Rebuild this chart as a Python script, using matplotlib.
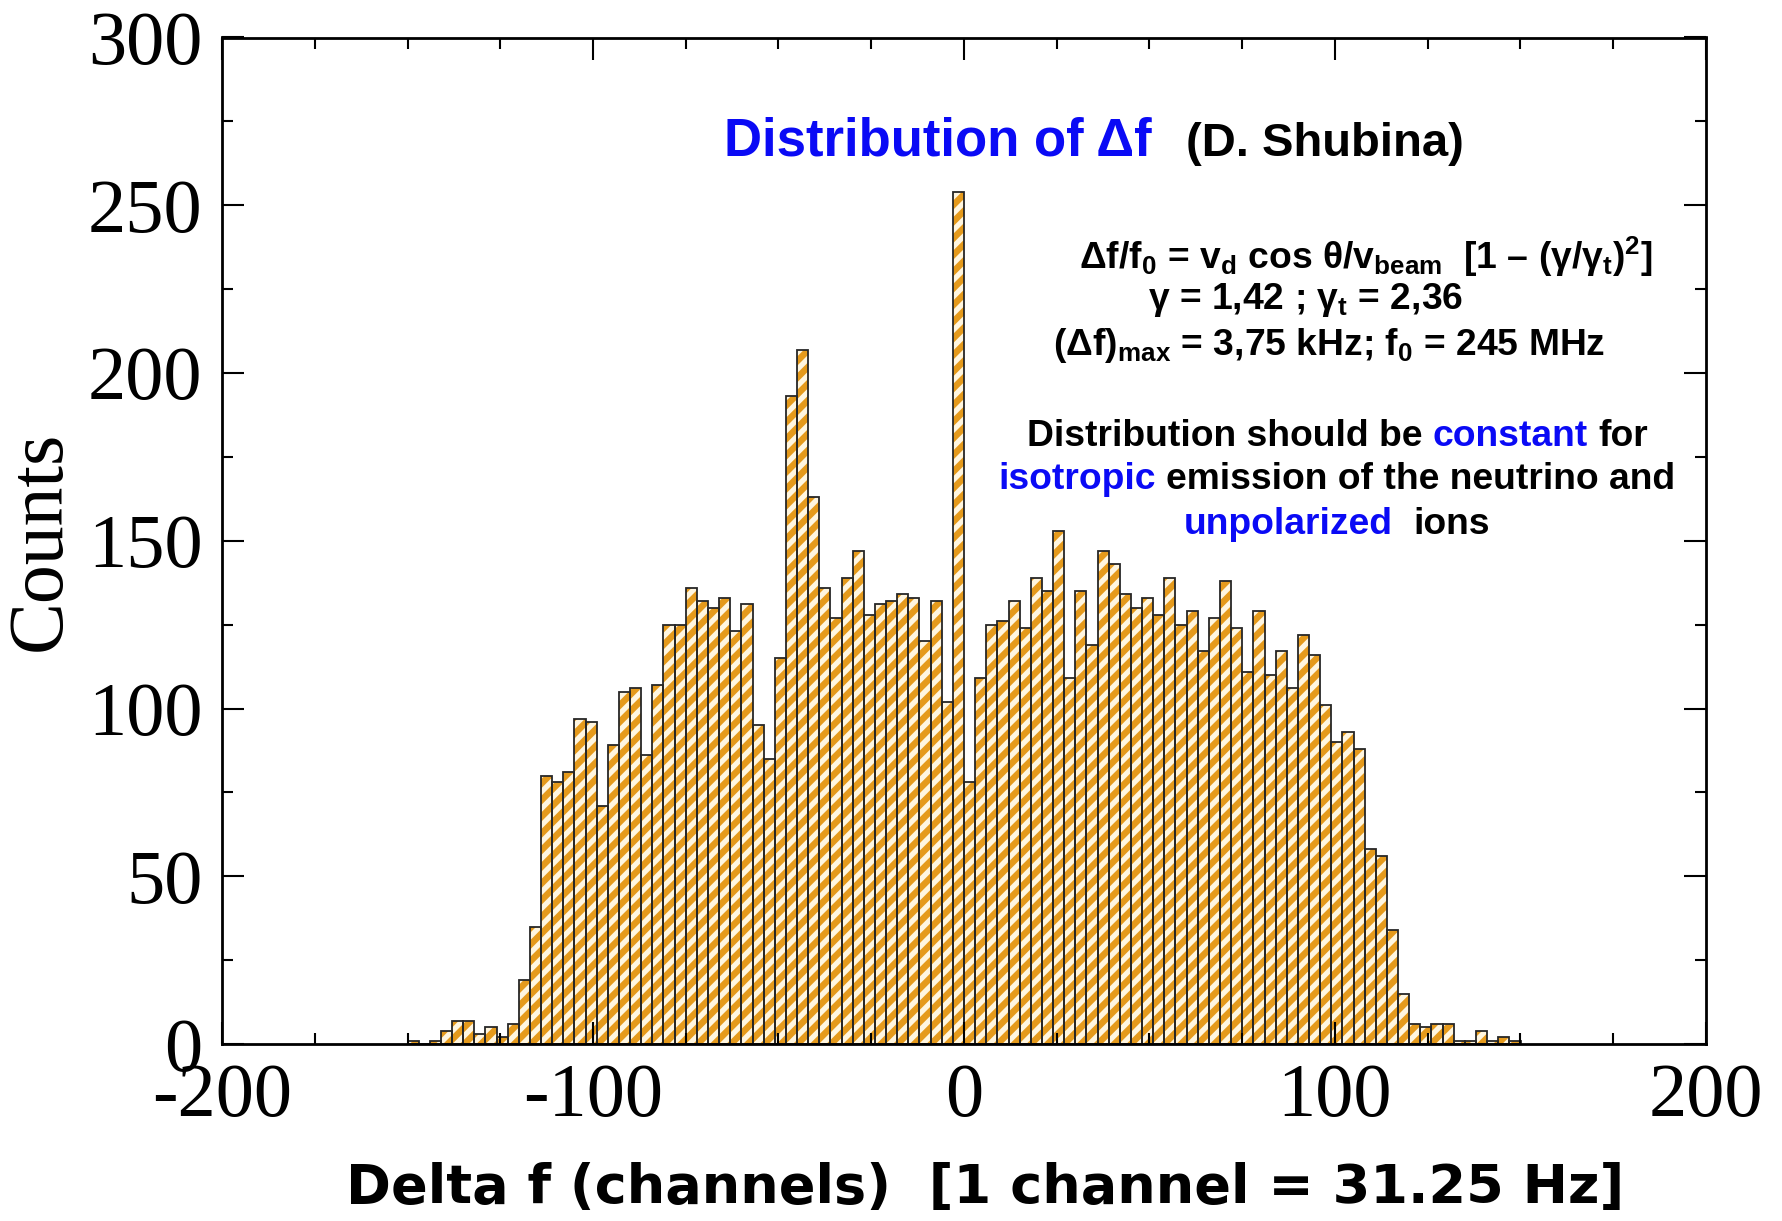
import matplotlib
matplotlib.use("Agg")
import matplotlib.pyplot as plt
import numpy as np

# histogram of delta f, 3-channel bins from -150 to 150
bin_left = np.arange(-150, 150, 3)
counts = [1, 0, 1, 4, 7, 7, 3, 5, 2, 6, 19, 35,
          80, 78, 81, 97, 96, 71, 89, 105,
          106, 86, 107, 125, 125, 136, 132, 130, 133, 123, 131, 95, 85, 115, 193, 207,
          163, 136, 127, 139, 147, 128, 131, 132, 134, 133, 120, 132, 102, 254,
          78, 109, 125, 126, 132, 124, 139, 135,
          153, 109, 135, 119, 147, 143, 134, 130, 133, 128, 139, 125, 129, 117, 127, 138, 124, 111, 129,
          110, 117, 106, 122, 116, 101, 90, 93, 88, 58, 56, 34, 15,
          6, 5, 6, 6, 1, 1, 4, 1, 2, 1]

x_ticks = [-200, -100, 0, 100, 200]
y_ticks = [0, 50, 100, 150, 200, 250, 300]

plt.rcParams['hatch.linewidth'] = 3.8
plt.rcParams['axes.unicode_minus'] = False
plt.rcParams['mathtext.fontset'] = 'custom'
plt.rcParams['mathtext.rm'] = 'Liberation Sans:bold'
plt.rcParams['mathtext.it'] = 'Liberation Sans:bold'
plt.rcParams['mathtext.bf'] = 'Liberation Sans:bold'

W, H = 1783, 1221
fig = plt.figure(figsize=(W / 100, H / 100), dpi=100)
ax = fig.add_axes([222 / W, 1 - 1044 / H, (1706 - 222) / W, (1044 - 37.5) / H])

# striped fill, then black outline
ax.bar(bin_left, counts, width=3, align='edge', color='#e59a1c',
       edgecolor='#fff6e0', hatch='//', linewidth=0)
ax.bar(bin_left, counts, width=3, align='edge', fill=False,
       edgecolor='#262626', linewidth=1.3)

ax.set_xlim(-200, 200)
ax.set_ylim(0, 300)
ax.set_xticks(x_ticks)
ax.set_yticks(y_ticks)
ax.set_xticks(np.arange(-200, 201, 25), minor=True)
ax.set_yticks(np.arange(0, 301, 25), minor=True)
ax.tick_params(which='both', direction='in', top=True, right=True, width=1.5)
ax.tick_params(which='major', length=16, pad=14)
ax.tick_params(which='minor', length=8)
for lab in ax.get_xticklabels() + ax.get_yticklabels():
    lab.set_family('Liberation Serif')
    lab.set_fontsize(55)
for s in ax.spines.values():
    s.set_linewidth(2)

ax.set_ylabel('Counts', family='Liberation Serif', fontsize=56, va='center')
ax.yaxis.set_label_coords((41 - 222) / 1484, 0.5)
ax.set_xlabel('Delta f (channels)  [1 channel = 31.25 Hz]', family='DejaVu Sans',
              fontweight='bold', fontsize=39, va='center')
ax.xaxis.set_label_coords((985 - 222) / 1484, (1044 - 1188) / 1006.5)

blue = '#0a0af5'
fig.text(724 / W, 1 - 156 / H, 'Distribution of Δf', color=blue, family='Liberation Sans',
         fontweight='bold', fontsize=38, va='baseline')
fig.text(1186 / W, 1 - 156 / H, '(D. Shubina)', color='black', family='Liberation Sans',
         fontweight='bold', fontsize=34, va='baseline')

fs = 26.8
kw = dict(family='Liberation Sans', fontweight='bold', fontsize=fs, va='baseline', ha='center')
fig.text(1366 / W, 1 - 269 / H,
         r'Δf/f$_0$ = v$_d$ cos θ/v$_{beam}$  [1 – (γ/γ$_t$)$^2$]', **kw)
fig.text(1306 / W, 1 - 309 / H, r'γ = 1,42 ; γ$_t$ = 2,36', **kw)
fig.text(1329 / W, 1 - 355 / H, r'(Δf)$_{max}$ = 3,75 kHz; f$_0$ = 245 MHz', **kw)

renderer = fig.canvas.get_renderer()


def colored_line(x_left, y_base, parts):
    # parts: list of (text, colour, spaces before next)
    x = x_left
    probe = fig.text(0, 0, 'a a', family='Liberation Sans', fontweight='bold', fontsize=fs)
    w1 = probe.get_window_extent(renderer).width
    probe.set_text('aa')
    sp = w1 - probe.get_window_extent(renderer).width
    probe.remove()
    for txt, col, nsp in parts:
        t = fig.text(x / W, 1 - y_base / H, txt, color=col, family='Liberation Sans',
                     fontweight='bold', fontsize=fs, va='baseline')
        x += t.get_window_extent(renderer).width + nsp * sp


colored_line(1027, 446, [('Distribution should be', 'black', 1), ('constant', blue, 1),
                         ('for', 'black', 0)])
colored_line(998, 489, [('isotropic', blue, 1), ('emission of the neutrino and', 'black', 0)])
colored_line(1184, 534, [('unpolarized', blue, 2), ('ions', 'black', 0)])

fig.savefig('out.png', dpi=100)
